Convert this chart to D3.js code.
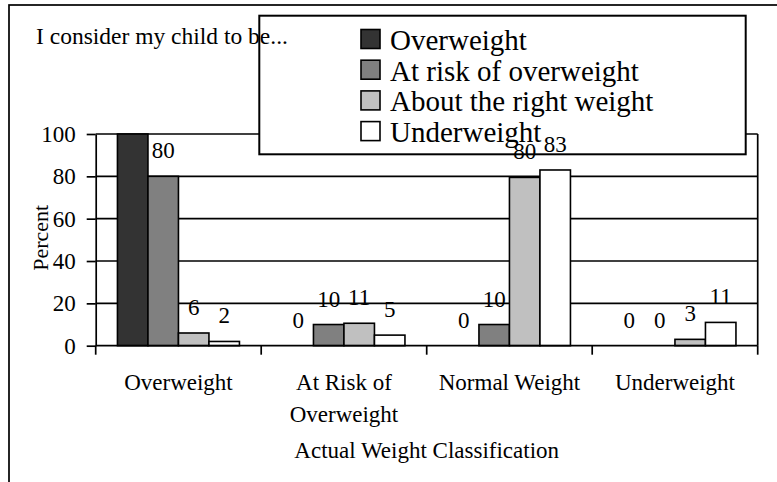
<!DOCTYPE html>
<html lang="en">
<head>
	<meta charset="utf-8">
	<title>I consider my child to be...</title>
	<script type="text/javascript" src="https://d3js.org/d3.v7.min.js"></script>
	<style type="text/css">
		body { margin: 0; background: white; }
		text { font-family: "Liberation Serif", "Times New Roman", serif; fill: black; }
	</style>
</head>
<body>
	<script type="text/javascript">
		// actual weight classification (x axis)
		var categories = ["Overweight", "At Risk of\nOverweight", "Normal Weight", "Underweight"];
		// what the parent considers the child to be (series)
		var series = ["Overweight", "At risk of overweight", "About the right weight", "Underweight"];
		var seriesColors = ["#333333", "#808080", "#c0c0c0", "#ffffff"];
		// percent, one array per series, in category order
		var overweight = [100, 0, 0, 0];
		var atRisk = [80, 10, 10, 0];
		var rightWeight = [6, 10.6, 79.5, 3];
		var underweight = [2, 5, 83, 11];
		var yTicks = [0, 20, 40, 60, 80, 100];

		var values = [overweight, atRisk, rightWeight, underweight];

		var width = 777, height = 482;
		var plot = {left: 95.7, right: 757.7, top: 134, bottom: 345.7};

		var svg = d3.select("body")
			.append("svg")
			.attr("width", width)
			.attr("height", height);

		// outer chart frame (runs off the right and bottom of the picture)
		svg.append("rect")
			.attr("x", 9).attr("y", 5)
			.attr("width", 820).attr("height", 520)
			.attr("fill", "white")
			.attr("stroke", "black")
			.attr("stroke-width", 1.7);

		var x0 = d3.scaleBand()
			.domain(categories)
			.range([plot.left, plot.right]);

		var x1 = d3.scaleBand()
			.domain(series)
			.range([0, x0.bandwidth()])
			.paddingOuter(0.713);

		var y = d3.scaleLinear()
			.domain([0, 100])
			.range([plot.bottom, plot.top]);

		// gridlines
		svg.append("g")
			.selectAll("line")
			.data(yTicks.filter(function(t) { return t > 0; }))
			.enter()
			.append("line")
			.attr("x1", plot.left).attr("x2", plot.right)
			.attr("y1", function(d) { return y(d); })
			.attr("y2", function(d) { return y(d); })
			.attr("stroke", "black")
			.attr("stroke-width", 1.7);

		// right edge of the plot area
		svg.append("line")
			.attr("x1", plot.right).attr("x2", plot.right)
			.attr("y1", plot.top).attr("y2", plot.bottom)
			.attr("stroke", "black")
			.attr("stroke-width", 1.7);

		// bars
		var rows = [];
		series.forEach(function(s, i) {
			categories.forEach(function(c, j) {
				rows.push({series: s, category: c, value: values[i][j], color: seriesColors[i]});
			});
		});

		svg.append("g")
			.selectAll("rect")
			.data(rows.filter(function(d) { return d.value > 0; }))
			.enter()
			.append("rect")
			.attr("x", function(d) { return x0(d.category) + x1(d.series); })
			.attr("y", function(d) { return y(d.value); })
			.attr("width", x1.bandwidth())
			.attr("height", function(d) { return y(0) - y(d.value); })
			.attr("fill", function(d) { return d.color; })
			.attr("stroke", "black")
			.attr("stroke-width", 1.6);

		// y axis
		var yAxis = svg.append("g")
			.attr("transform", "translate(" + plot.left + ",0)")
			.call(d3.axisLeft(y).tickValues(yTicks).tickSize(9).tickSizeOuter(0).tickPadding(11));
		yAxis.selectAll("path, line").attr("stroke", "black").attr("stroke-width", 1.7);
		yAxis.selectAll("text")
			.attr("font-family", null)
			.attr("dy", "0.33em")
			.style("font-size", "23px");
		yAxis.attr("font-family", null).attr("font-size", null);

		// x axis: baseline plus ticks at the category boundaries
		svg.append("line")
			.attr("x1", plot.left).attr("x2", plot.right)
			.attr("y1", y(0)).attr("y2", y(0))
			.attr("stroke", "black")
			.attr("stroke-width", 1.7);

		var bounds = categories.map(function(c) { return x0(c); }).concat([plot.right]);
		svg.append("g")
			.selectAll("line")
			.data(bounds)
			.enter()
			.append("line")
			.attr("x1", function(d) { return d; })
			.attr("x2", function(d) { return d; })
			.attr("y1", y(0)).attr("y2", y(0) + 9)
			.attr("stroke", "black")
			.attr("stroke-width", 1.7);

		var catLabels = svg.append("g")
			.selectAll("text")
			.data(categories)
			.enter()
			.append("text")
			.attr("text-anchor", "middle")
			.style("font-size", "23px")
			.attr("y", 390);
		catLabels.selectAll("tspan")
			.data(function(d) { return d.split("\n").map(function(t) { return {c: d, t: t}; }); })
			.enter()
			.append("tspan")
			.attr("x", function(d) { return x0(d.c) + x0.bandwidth() / 2; })
			.attr("dy", function(d, i) { return i === 0 ? 0 : 31.7; })
			.text(function(d) { return d.t; });

		svg.append("text")
			.attr("x", (plot.left + plot.right) / 2)
			.attr("y", 458.3)
			.attr("text-anchor", "middle")
			.style("font-size", "23px")
			.text("Actual Weight Classification");

		svg.append("text")
			.attr("transform", "translate(48," + ((plot.top + plot.bottom) / 2 - 2) + ") rotate(-90)")
			.attr("text-anchor", "middle")
			.style("font-size", "22px")
			.text("Percent");

		// legend
		var legend = svg.append("g");
		legend.append("rect")
			.attr("x", 259.3).attr("y", 15.7)
			.attr("width", 486.4).attr("height", 138.6)
			.attr("fill", "white")
			.attr("stroke", "black")
			.attr("stroke-width", 2);

		var item = legend.selectAll("g.item")
			.data(series)
			.enter()
			.append("g")
			.attr("class", "item")
			.attr("transform", function(d, i) { return "translate(361," + (29.5 + i * 30.7) + ")"; });
		item.append("rect")
			.attr("width", 19).attr("height", 19)
			.attr("fill", function(d, i) { return seriesColors[i]; })
			.attr("stroke", "black")
			.attr("stroke-width", 1.6);
		item.append("text")
			.attr("x", 29)
			.attr("y", 20.5)
			.style("font-size", "29px")
			.text(function(d) { return d; });

		// title sits on top of the legend box
		svg.append("text")
			.attr("x", 36)
			.attr("y", 44.3)
			.style("font-size", "23.5px")
			.text("I consider my child to be...");

		// value labels, drawn last (they overprint the legend)
		svg.append("g")
			.selectAll("text")
			.data(rows.filter(function(d) { return d.value < 100; }))
			.enter()
			.append("text")
			.attr("x", function(d) { return x0(d.category) + x1(d.series) + x1.bandwidth() / 2; })
			.attr("y", function(d) { return y(d.value) - 18; })
			.attr("text-anchor", "middle")
			.style("font-size", "23px")
			.text(function(d) { return Math.round(d.value); });
	</script>
</body>
</html>
